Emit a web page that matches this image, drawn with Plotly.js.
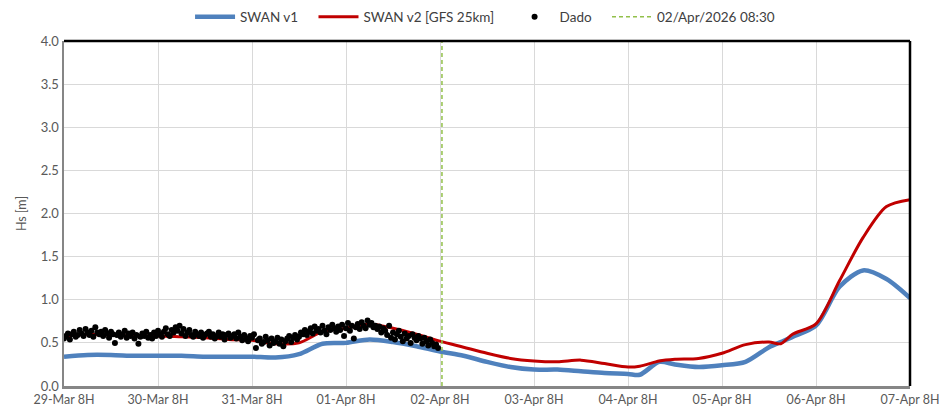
<!DOCTYPE html>
<html>
<head>
<meta charset="utf-8">
<script src="https://cdn.plot.ly/plotly-3.0.1.min.js"></script>
<style>html,body{margin:0;padding:0;background:#fff;}#chart{width:939px;height:409px;}</style>
</head>
<body>
<div id="chart"></div>
<script>
// hours since 29-Mar 08:00
const modelHours = [0,6,12,18,24,30,36,42,48,54,60,66,72,78,84,90,96,102,108,114,120,126,132,138,144,147,152,156,162,168,174,180,183,186,192,198,204,210,216];
const swanV1 = [0.34,0.36,0.36,0.35,0.35,0.35,0.34,0.34,0.34,0.33,0.37,0.49,0.50,0.54,0.51,0.46,0.40,0.35,0.28,0.22,0.19,0.19,0.17,0.15,0.14,0.13,0.28,0.25,0.22,0.24,0.28,0.45,0.51,0.57,0.70,1.15,1.34,1.24,1.02];
const swanV2 = [0.58,0.60,0.59,0.58,0.58,0.57,0.56,0.54,0.53,0.49,0.50,0.63,0.67,0.72,0.67,0.60,0.52,0.45,0.38,0.32,0.29,0.28,0.30,0.26,0.22,0.23,0.29,0.31,0.32,0.38,0.48,0.51,0.49,0.60,0.72,1.22,1.72,2.08,2.16];
// buoy observations, every half hour from 29-Mar 08:00
const dado = [
0.55,0.58,0.61,0.54,0.60,0.63,0.57,0.59,0.65,0.61,
0.58,0.66,0.62,0.59,0.64,0.57,0.68,0.62,0.60,0.63,
0.58,0.65,0.61,0.56,0.63,0.60,0.50,0.59,0.62,0.57,
0.60,0.64,0.56,0.61,0.58,0.62,0.55,0.59,0.49,0.57,
0.61,0.58,0.63,0.56,0.59,0.55,0.62,0.58,0.64,0.60,
0.57,0.63,0.67,0.60,0.58,0.65,0.62,0.68,0.64,0.70,
0.61,0.66,0.58,0.62,0.65,0.59,0.57,0.63,0.60,0.58,
0.62,0.56,0.59,0.61,0.63,0.57,0.60,0.55,0.58,0.62,
0.57,0.60,0.54,0.59,0.61,0.56,0.58,0.60,0.55,0.62,
0.57,0.53,0.59,0.55,0.52,0.58,0.56,0.60,0.44,0.53,
0.55,0.49,0.51,0.57,0.53,0.47,0.55,0.50,0.52,0.56,
0.49,0.54,0.46,0.52,0.55,0.58,0.51,0.56,0.59,0.54,
0.57,0.62,0.60,0.65,0.59,0.63,0.67,0.61,0.69,0.64,
0.66,0.62,0.70,0.64,0.60,0.68,0.65,0.71,0.67,0.63,
0.69,0.65,0.71,0.58,0.67,0.73,0.64,0.70,0.55,0.68,
0.72,0.66,0.74,0.70,0.67,0.76,0.71,0.73,0.68,0.70,
0.66,0.69,0.62,0.67,0.64,0.59,0.70,0.56,0.62,0.54,
0.60,0.64,0.57,0.52,0.61,0.55,0.58,0.50,0.60,0.56,
0.53,0.58,0.55,0.49,0.56,0.52,0.47,0.54,0.50,0.46,
0.48,0.44];
const dadoHours = dado.map((_, i) => i * 0.5);
const nowHour = 96.5;
const nowLabel = '02/Apr/2026 08:30';
const tickHours = [0,24,48,72,96,120,144,168,192,216];
const tickLabels = ['29-Mar 8H','30-Mar 8H','31-Mar 8H','01-Apr 8H','02-Apr 8H','03-Apr 8H','04-Apr 8H','05-Apr 8H','06-Apr 8H','07-Apr 8H'];

const pad = '\u00A0\u00A0\u00A0';
const font = {family:'Lato, "Open Sans", sans-serif', size:12.5, color:'#595959'};
const traces = [
  {x:modelHours, y:swanV1, name:'SWAN v1' + pad, mode:'lines', line:{color:'#4F81BD', width:4.5, shape:'spline', smoothing:0.8}},
  {x:modelHours, y:swanV2, name:'SWAN v2 [GFS 25km]' + pad, mode:'lines', line:{color:'#C00000', width:3, shape:'spline', smoothing:0.8}},
  {x:dadoHours, y:dado, name:'Dado' + pad, mode:'markers', marker:{color:'#000000', size:6}},
  {x:[nowHour, nowHour], y:[0,4], name:nowLabel, mode:'lines', line:{color:'#92C04A', width:1.5, dash:'4px,3px'}}
];
const layout = {
  width:939, height:409,
  margin:{l:64, r:29, t:41, b:23, autoexpand:false},
  paper_bgcolor:'#fff', plot_bgcolor:'#fff',
  font:font,
  showlegend:true,
  legend:{orientation:'h', x:0.149, xanchor:'left', y:1.07, yanchor:'middle', font:{family:font.family, size:13.5, color:'#404040'}, tracegroupgap:0, itemwidth:40},
  xaxis:{range:[0,216], tickvals:tickHours, ticktext:tickLabels, showgrid:true, gridcolor:'#D9D9D9', gridwidth:1,
         showline:true, linecolor:'#868686', linewidth:2.5, zeroline:false, ticks:'', ticklabeloverflow:'allow',
         tickfont:{size:12.5, color:'#595959'}},
  yaxis:{range:[0,4], dtick:0.5, tickformat:'.1f', showgrid:true, gridcolor:'#D9D9D9', gridwidth:1,
         showline:true, linecolor:'#868686', linewidth:2.5, zeroline:false, ticks:'',
         title:{text:'Hs [m]', font:{size:12.5, color:'#595959'}, standoff:12}, tickfont:{size:13, color:'#595959'}},
  shapes:[
    {type:'line', xref:'paper', yref:'paper', x0:0, x1:1, y0:1, y1:1, line:{color:'#000', width:2.5}},
    {type:'line', xref:'paper', yref:'paper', x0:1, x1:1, y0:0, y1:1, line:{color:'#000', width:2.5}}
  ]
};
Plotly.newPlot('chart', traces, layout, {displayModeBar:false, staticPlot:true});
</script>
</body>
</html>
